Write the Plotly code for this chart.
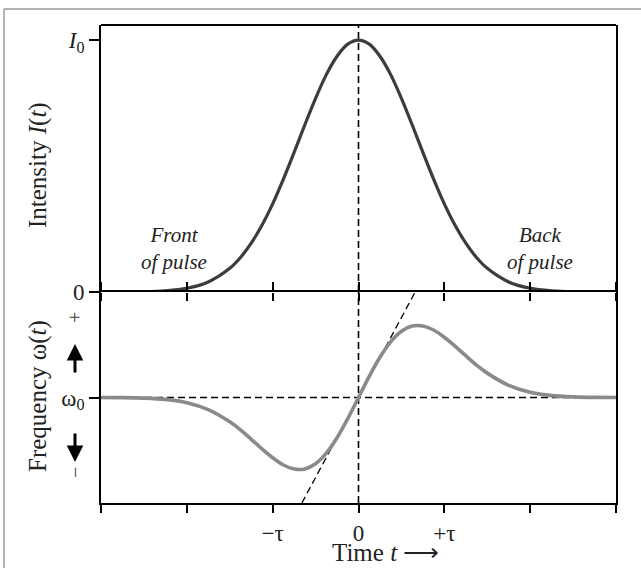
import plotly.graph_objects as go
from plotly.subplots import make_subplots

# ---- data (t in units of tau) ----
t_vals = [-3.0, -2.75, -2.5, -2.25, -2.0, -1.75, -1.5, -1.375, -1.25, -1.125, -1.0, -0.875,
          -0.75, -0.625, -0.5, -0.375, -0.25, -0.125, 0.0, 0.125, 0.25, 0.375, 0.5, 0.625,
          0.75, 0.875, 1.0, 1.125, 1.25, 1.375, 1.5, 1.75, 2.0, 2.25, 2.5, 2.75, 3.0]
intensity = [0.0, 0.0, 0.001, 0.005, 0.015, 0.040, 0.094, 0.137, 0.194, 0.265, 0.350, 0.448,
             0.554, 0.664, 0.769, 0.863, 0.936, 0.984, 1.0, 0.984, 0.936, 0.863, 0.769, 0.664,
             0.554, 0.448, 0.350, 0.265, 0.194, 0.137, 0.094, 0.040, 0.015, 0.005, 0.001, 0.0, 0.0]
frequency = [0.0, -0.001, -0.006, -0.018, -0.049, -0.115, -0.231, -0.307, -0.396, -0.487, -0.571, -0.640,
             -0.678, -0.677, -0.628, -0.528, -0.382, -0.201, 0.0, 0.201, 0.382, 0.528, 0.628, 0.677,
             0.678, 0.640, 0.571, 0.487, 0.396, 0.307, 0.231, 0.115, 0.049, 0.018, 0.006, 0.001, 0.0]
tangent_t = [-0.66, 0.66]
tangent_w = [-1.0, 1.0]
baseline_t = [-3.0, 3.0]
baseline_w = [0.0, 0.0]

x_tickvals = [-3, -2, -1, 0, 1, 2, 3]
x_ticktext = ["", "", "\u2212\u03c4", "0", "+\u03c4", "", ""]
top_tickvals = [0, 1]
top_ticktext = ["0", "<i>I</i><sub>0</sub>"]
bot_tickvals = [0]
bot_ticktext = ["\u03c9<sub>0</sub>"]

FONT = "Liberation Serif"
W, H = 641, 568
L, R, T, B = 101, 25, 25, 65
PW, PH = W - L - R, H - T - B
split_px = 292
split = (H - B - split_px) / PH


def px(xp):
    return (xp - L) / PW


def py(yp):
    return (H - B - yp) / PH


fig = make_subplots(rows=2, cols=1, shared_xaxes=False, vertical_spacing=0.0)

dash = "7px,4px"
fig.add_trace(go.Scatter(x=baseline_t, y=baseline_w, mode="lines",
                         line=dict(color="black", width=1.6, dash=dash),
                         hoverinfo="skip", showlegend=False), row=2, col=1)
fig.add_trace(go.Scatter(x=tangent_t, y=tangent_w, mode="lines",
                         line=dict(color="black", width=1.3, dash=dash),
                         hoverinfo="skip", showlegend=False), row=2, col=1)
fig.add_trace(go.Scatter(x=[0, 0], y=[0, 1.06], mode="lines",
                         line=dict(color="black", width=1.6, dash=dash),
                         hoverinfo="skip", showlegend=False), row=1, col=1)
fig.add_trace(go.Scatter(x=[0, 0], y=[-1, 1], mode="lines",
                         line=dict(color="black", width=1.6, dash=dash),
                         hoverinfo="skip", showlegend=False), row=2, col=1)

fig.add_trace(go.Scatter(x=t_vals, y=intensity, mode="lines",
                         line=dict(color="#3c3c3c", width=3.2, shape="spline", smoothing=0.8),
                         showlegend=False), row=1, col=1)
fig.add_trace(go.Scatter(x=t_vals, y=frequency, mode="lines",
                         line=dict(color="#8a8a8a", width=3.6, shape="spline", smoothing=0.8),
                         showlegend=False), row=2, col=1)

axis_common = dict(showgrid=False, zeroline=False, linecolor="black", linewidth=1.8,
                   tickcolor="black", tickwidth=1.5)
tfont = dict(family=FONT, size=23, color="#222")

fig.update_layout(
    xaxis=dict(domain=[0, 1], range=[-3, 3], anchor="y", tickvals=x_tickvals,
               ticktext=[""] * 7, ticks="outside", ticklen=8, showline=False,
               tickfont=tfont, **axis_common),
    yaxis=dict(domain=[split, 1], range=[0, 1.06], anchor="x", tickvals=top_tickvals,
               ticktext=top_ticktext, ticks="outside", ticklen=10, showline=True, mirror=True,
               tickfont=tfont, **axis_common),
    xaxis2=dict(domain=[0, 1], range=[-3, 3], anchor="y2", tickvals=x_tickvals,
                ticktext=x_ticktext, ticks="outside", ticklen=8, showline=True, mirror="ticks",
                tickfont=tfont, **axis_common),
    yaxis2=dict(domain=[0, split], range=[-1, 1], anchor="x2", tickvals=bot_tickvals,
                ticktext=bot_ticktext, ticks="outside", ticklen=10, showline=True, mirror=True,
                tickfont=tfont, **axis_common),
)


def note(x, y, text, size, angle=0, color="#222"):
    return dict(x=px(x), y=py(y), xref="paper", yref="paper", showarrow=False,
                xanchor="center", yanchor="middle", text=text, textangle=angle,
                align="center", font=dict(family=FONT, size=size, color=color))


ann = [
    note(38, 165, "Intensity <i>I</i>(<i>t</i>)", 25, -90),
    note(38, 396, "Frequency \u03c9(<i>t</i>)", 25, -90),
    note(385, 552, "Time <i>t</i> \u27f6", 25),
    note(174, 248, "<i>Front</i><br><i>of pulse</i>", 21),
    note(540, 248, "<i>Back</i><br><i>of pulse</i>", 21),
    note(75, 318, "+", 20, -90, "#444"),
    note(75, 473, "\u2212", 20, -90, "#444"),
    dict(x=px(75), y=py(344), xref="paper", yref="paper", showarrow=True,
         ax=0, ay=30, text="", arrowhead=2, arrowsize=1.1, arrowwidth=3, arrowcolor="black"),
    dict(x=px(75), y=py(462), xref="paper", yref="paper", showarrow=True,
         ax=0, ay=-30, text="", arrowhead=2, arrowsize=1.1, arrowwidth=3, arrowcolor="black"),
]

fig.update_layout(
    width=W, height=H,
    margin=dict(l=L, r=R, t=T, b=B, autoexpand=False),
    paper_bgcolor="white", plot_bgcolor="white",
    showlegend=False,
    annotations=ann,
    shapes=[
        # top border of upper panel
        dict(type="line", xref="paper", yref="paper", x0=0, x1=1, y0=1, y1=1,
             line=dict(color="black", width=1.8)),
        # outer frame (left and top edges visible)
        dict(type="rect", xref="paper", yref="paper",
             x0=px(4), x1=px(720), y0=py(640), y1=py(9),
             line=dict(color="#666", width=1), layer="below"),
    ],
)

fig.write_html("out.html", config={"displayModeBar": False},
               post_script="document.body.style.margin='0';document.body.style.overflow='hidden';")
